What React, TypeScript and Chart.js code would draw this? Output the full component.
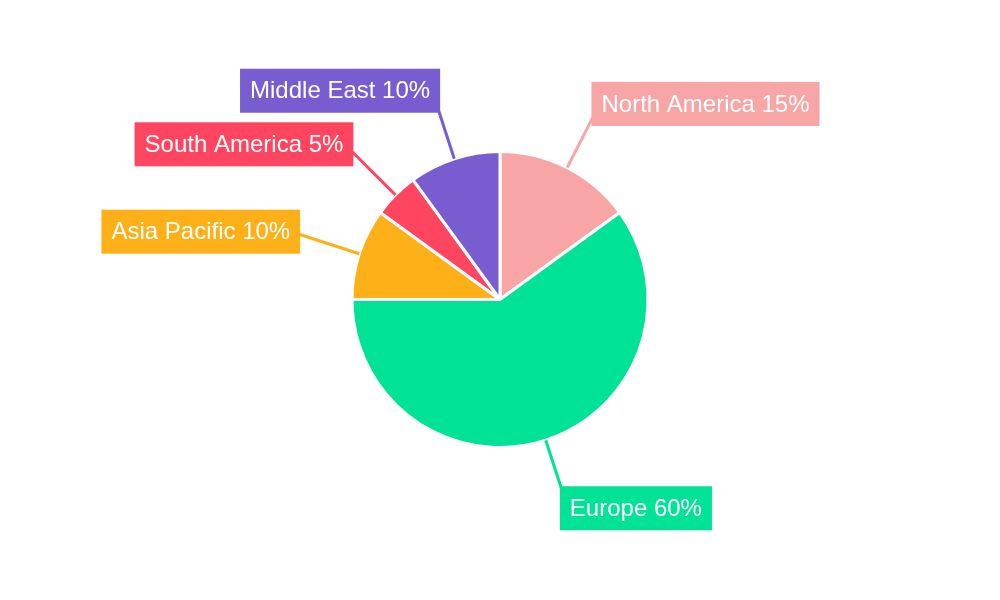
import React, { useEffect, useRef } from "react";
import { Chart, registerables } from "chart.js";

Chart.register(...registerables);

const regions = ["North America", "Europe", "Asia Pacific", "South America", "Middle East"];
const shares = [15, 60, 10, 5, 10];
const colors = ["#F8A5A6", "#00E396", "#FEB019", "#FF4560", "#775DD0"];

const calloutPlugin = {
  id: "callouts",
  afterDatasetsDraw(chart: any) {
    const ctx = chart.ctx;
    const meta = chart.getDatasetMeta(0);
    const ds = chart.data.datasets[0];
    ctx.save();
    ctx.font = "24px 'Liberation Sans', Arial, sans-serif";
    meta.data.forEach((arc: any, i: number) => {
      const p = arc.getProps(["x", "y", "startAngle", "endAngle", "outerRadius"], true);
      const mid = (p.startAngle + p.endAngle) / 2;
      const cx = Math.cos(mid);
      const sy = Math.sin(mid);
      const r = p.outerRadius;
      const L = 55;
      const sx0 = p.x + cx * r;
      const sy0 = p.y + sy * r;
      const ex = p.x + cx * (r + L);
      const ey = p.y + sy * (r + L);
      const color = ds.backgroundColor[i];
      const text = `${chart.data.labels[i]} ${ds.data[i]}%`;
      const tw = ctx.measureText(text).width;
      const pad = 10;
      const bw = tw + pad * 2;
      const bh = 44;
      const shift = 15 * Math.abs(cx) - 7.5;
      const bx = cx >= 0 ? ex + shift : ex - shift - bw;
      const bcy = ey + sy * 16.5;
      const by = bcy - bh / 2;
      const extra = Math.max(0, shift) / Math.max(Math.abs(cx), 0.2) + 2;
      ctx.strokeStyle = color;
      ctx.lineWidth = 3;
      ctx.beginPath();
      ctx.moveTo(sx0, sy0);
      ctx.lineTo(ex + cx * extra, ey + sy * extra);
      ctx.stroke();
      ctx.fillStyle = color;
      ctx.fillRect(bx, by, bw, bh);
      ctx.fillStyle = "#ffffff";
      ctx.textBaseline = "middle";
      ctx.textAlign = "left";
      ctx.fillText(text, bx + pad, bcy + 1);
    });
    ctx.restore();
  },
};

export default function App() {
  const ref = useRef<HTMLCanvasElement>(null);
  useEffect(() => {
    document.body.style.margin = "0";
    const chart = new Chart(ref.current as HTMLCanvasElement, {
      type: "pie",
      data: {
        labels: regions,
        datasets: [
          {
            data: shares,
            backgroundColor: colors,
            borderColor: "#ffffff",
            borderWidth: 3,
          },
        ],
      },
      options: {
        animation: false,
        responsive: true,
        maintainAspectRatio: false,
        layout: { padding: { top: 150, bottom: 151, left: 0, right: 0 } },
        plugins: { legend: { display: false }, tooltip: { enabled: false } },
      },
      plugins: [calloutPlugin],
    });
    return () => chart.destroy();
  }, []);
  return (
    <div style={{ position: "absolute", left: 0, top: 0, width: 1000, height: 600, background: "#fff" }}>
      <canvas ref={ref} />
    </div>
  );
}
